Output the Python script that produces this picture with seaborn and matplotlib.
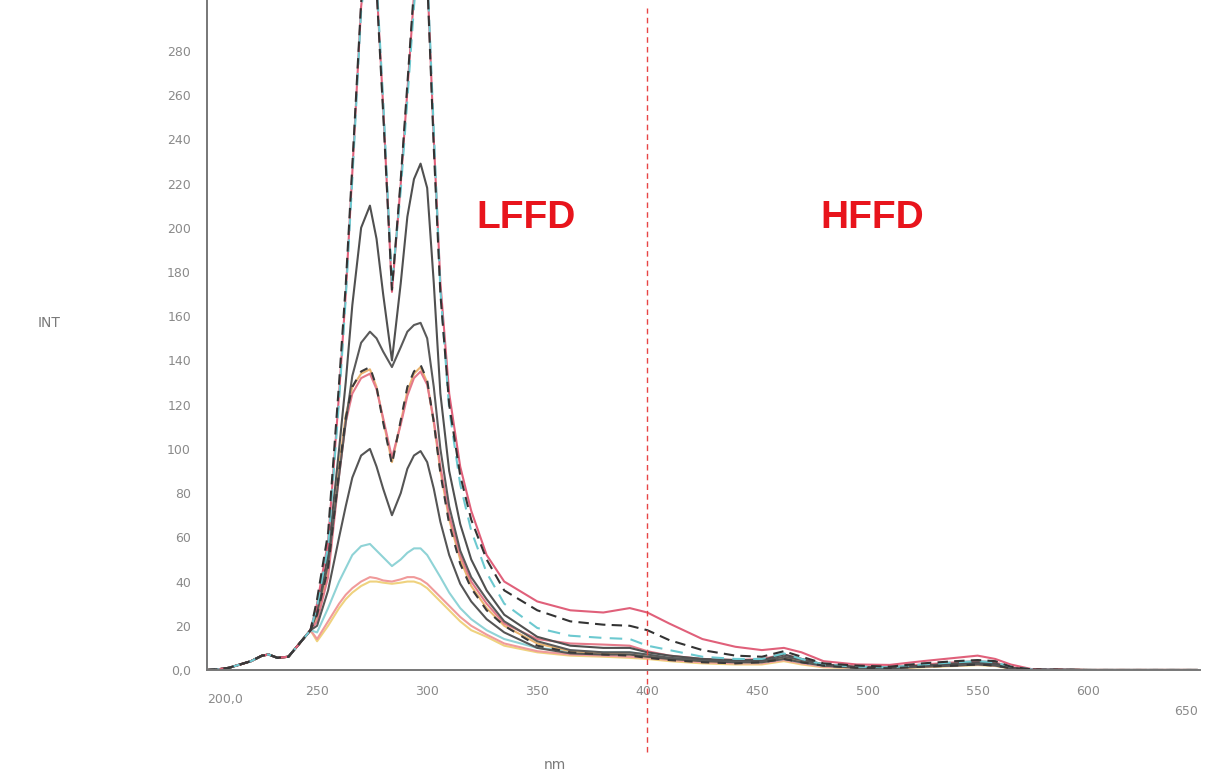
import matplotlib
matplotlib.use("Agg")
import matplotlib.pyplot as plt
import matplotlib.transforms as mtransforms
import seaborn as sns

# shared start of all spectra (200-247 nm), curves coincide here
wl_base = [200, 205, 210, 215, 220, 225, 228, 232, 237, 242, 247]
int_base = [0, 0.3, 1, 2.5, 4, 6.5, 7, 5.5, 6, 12, 18]

# wavelength grid of the individual spectra (nm)
wl = [250, 255, 260, 263, 266, 270, 274, 277, 280, 284,
      288, 291, 294, 297, 300, 303, 306, 310, 315, 320,
      327, 335, 350, 365, 380, 392, 400, 410, 425, 440,
      452, 462, 470, 480, 495, 510, 525, 540, 550, 558,
      565, 575, 600, 650]

a_red = [30, 58, 125, 170, 225, 300, 335, 310, 255, 171,
         220, 262, 305, 335, 315, 240, 175, 125, 92, 72,
         52, 40, 31, 27, 26, 28, 26, 21, 14, 10.5,
         9, 10, 8, 4, 2.5, 2.3, 4, 5.5, 6.5, 5,
         2.5, 0.3, 0, 0]
a_cyan = [29, 56, 122, 168, 222, 298, 333, 312, 258, 174,
          217, 258, 300, 333, 317, 244, 172, 118, 84, 63,
          44, 30, 19, 15.5, 14.5, 14, 11, 9, 6, 5,
          5, 7.5, 5, 2.5, 1.5, 1.2, 2.5, 3.5, 4, 3.5,
          1.5, 0.2, 0, 0]
a_black = [32, 62, 130, 174, 228, 302, 336, 308, 252, 172,
           222, 265, 308, 336, 313, 236, 170, 120, 88, 68,
           50, 36, 27, 22, 20.5, 20, 18, 13.5, 9, 6.5,
           6, 8.5, 6, 3, 2, 1.5, 3, 4, 4.5, 4,
           1.5, 0.2, 0, 0]
b_gray = [28, 52, 100, 130, 165, 200, 210, 195, 170, 140,
          175, 205, 222, 229, 218, 175, 125, 90, 66, 50,
          36, 25, 15, 11, 10, 10, 8, 6.5, 5, 4.5,
          4.5, 7, 5, 2.5, 1.5, 1, 2, 3, 3.5, 3,
          1, 0.2, 0, 0]
c_gray = [26, 48, 88, 112, 133, 148, 153, 150, 144, 137,
          146, 153, 156, 157, 150, 128, 100, 74, 54, 42,
          32, 22, 13, 9, 8, 8, 7, 5.5, 4.5, 4,
          4, 6, 4.5, 2, 1.2, 1, 1.8, 2.5, 3, 2.5,
          1, 0.2, 0, 0]
d_orange = [24, 45, 92, 115, 128, 134, 136, 128, 113, 94,
            112, 126, 134, 137, 130, 112, 90, 68, 50, 38,
            28, 20, 12, 8.5, 7.5, 7, 6, 5, 4, 3.5,
            3.5, 5.5, 4, 2, 1.2, 1, 1.5, 2.5, 3, 2.5,
            1, 0.2, 0, 0]
d_red = [22, 42, 88, 112, 125, 132, 134, 127, 114, 96,
         111, 124, 132, 135, 129, 113, 92, 70, 52, 40,
         30, 21, 14, 12, 11.5, 11, 8.5, 6.5, 5, 4.5,
         5, 7, 5, 2.5, 1.5, 1.5, 2.5, 3.5, 4, 3.5,
         1.2, 0.2, 0, 0]
d_black = [25, 46, 90, 114, 128, 135, 137, 128, 112, 93,
           113, 128, 135, 138, 131, 112, 89, 66, 48, 37,
           27, 20, 11, 8, 7, 6.5, 5.5, 4.5, 3.5, 3,
           3.5, 5, 3.5, 2, 1, 0.8, 1.5, 2, 2.5, 2,
           0.8, 0.2, 0, 0]
e_gray = [20, 36, 60, 74, 87, 97, 100, 92, 82, 70,
          80, 91, 97, 99, 94, 82, 67, 52, 39, 31,
          23, 17, 10, 7.5, 7, 7, 6, 5, 4, 3.5,
          3.5, 5, 3.5, 2, 1, 0.8, 1.5, 2, 2.5, 2,
          0.8, 0.2, 0, 0]
f_cyan = [17, 28, 40, 46, 52, 56, 57, 54, 51, 47,
          50, 53, 55, 55, 52, 47, 42, 35, 28, 23,
          18, 14, 10, 8.5, 8, 8, 7, 5.5, 4.5, 3.5,
          3.5, 5, 3.5, 2, 1, 0.8, 2, 2.5, 3, 2.5,
          1, 0.2, 0, 0]
g_pink = [14, 22, 30, 34, 37, 40, 42, 41.5, 40.5, 40,
          41, 42, 42, 41, 39, 36, 33, 29, 24, 20,
          16, 12, 8.5, 7, 6.5, 6, 5.5, 4.5, 3.5, 3,
          3, 4.5, 3, 1.5, 1, 0.8, 1.5, 2, 2.5, 2,
          0.8, 0.2, 0, 0]
g_yellow = [13, 20, 28, 32, 35, 38, 40, 40, 39.5, 39,
            39.5, 40, 40, 39, 37, 34, 31, 27, 22, 18,
            15, 11, 8, 6.5, 6, 5.5, 5, 4, 3, 2.5,
            2.5, 4, 2.5, 1.2, 0.8, 0.6, 1.2, 1.8, 2.2, 1.8,
            0.6, 0.1, 0, 0]

# drawing order: pale first, dark dashed last
curves = [
    (g_yellow, "#efd27e", "-"),
    (g_pink, "#f09a9a", "-"),
    (f_cyan, "#8fd3d6", "-"),
    (d_orange, "#e9b36f", "-"),
    (d_red, "#e57a8a", "-"),
    (e_gray, "#555555", "-"),
    (c_gray, "#5a5a5a", "-"),
    (b_gray, "#505050", "-"),
    (a_red, "#e0607a", "-"),
    (a_cyan, "#6cc9d0", (0, (6, 4))),
    (a_black, "#333333", (0, (5, 3))),
    (d_black, "#3a3a3a", (0, (4, 4))),
]

y_ticks = list(range(0, 300, 20))
y_labels = ["0,0"] + [str(v) for v in y_ticks[1:]]
x_ticks = [200, 250, 300, 350, 400, 450, 500, 550, 600, 650]
x_labels = ["200,0", "250", "300", "350", "400", "450", "500", "550", "600", "650"]

sns.set_style("white")
plt.rcParams["font.family"] = ["DejaVu Sans"]

fig = plt.figure(figsize=(12.06, 7.78), dpi=100)
ax = fig.add_axes([207 / 1206, 108 / 778, 993 / 1206, 670 / 778])

for vals, col, ls in curves:
    sns.lineplot(x=wl_base + wl, y=int_base + vals, ax=ax, color=col,
                 linestyle=ls, linewidth=1.5, sort=False)

ax.set_xlim(200, 651)
ax.set_ylim(0, 303)

ax.axvline(400, ymin=-0.122, ymax=0.988, clip_on=False, color="#e84545",
           linewidth=1.0, linestyle=(0, (4, 3)))

sns.despine(ax=ax, top=True, right=True)
for side in ("left", "bottom"):
    ax.spines[side].set_color("#777777")
    ax.spines[side].set_linewidth(1.4)

ax.set_yticks(y_ticks)
ax.set_yticklabels(y_labels)
ax.set_xticks(x_ticks)
ax.set_xticklabels(x_labels)
ax.tick_params(axis="both", direction="out", length=8, width=1.2,
               color="#777777", labelcolor="#8a8a8a", labelsize=9)
ax.tick_params(axis="x", pad=3)

# first label sits right of its tick, last one lower and at the edge
xl = ax.get_xticklabels()
xl[0].set_ha("left")
xl[-1].set_ha("right")
xl[0].set_transform(xl[0].get_transform() +
                    mtransforms.ScaledTranslation(0, -0.08, fig.dpi_scale_trans))
xl[-1].set_transform(xl[-1].get_transform() +
                     mtransforms.ScaledTranslation(0, -0.2, fig.dpi_scale_trans))

fig.text(38 / 1206, 1 - 323 / 778, "INT", color="#7a7a7a", fontsize=10,
         ha="left", va="center")
fig.text(555 / 1206, 1 - 765 / 778, "nm", color="#7a7a7a", fontsize=10,
         ha="center", va="center")

for label, xc in (("LFFD", 526), ("HFFD", 872)):
    fig.text(xc / 1206, 1 - 218 / 778, label, color="#e8141c", fontsize=28,
             fontweight="bold", family=["Liberation Sans", "DejaVu Sans"],
             ha="center", va="center")

fig.savefig("out.png", dpi=100, facecolor="white")
